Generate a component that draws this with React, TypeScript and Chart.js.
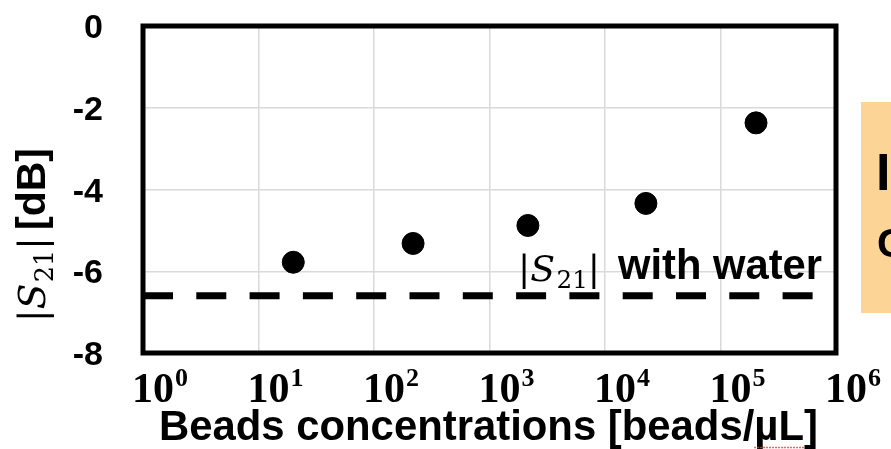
import React, { useEffect, useRef } from 'react';
import { Chart, registerables } from 'chart.js';

Chart.register(...registerables);

// ---- data ----
const concentrations = [20, 218, 2150, 22600, 203000];
const s21Values = [-5.78, -5.32, -4.88, -4.34, -2.37];
const waterLevel = -6.6;
const waterRange = [1, 1e6];
const xDecadeExponents = [0, 1, 2, 3, 4, 5, 6];
const yTickValues = [0, -2, -4, -6, -8];
const xTitle = 'Beads concentrations [beads/µL]';
const yTitleUnit = '[dB]';
const annotationText = 'with water';
const boxLetters = ['I', 'C'];

const W = 891;
const H = 449;
const SANS = '"Liberation Sans", Arial, sans-serif';
const SERIF = '"Liberation Serif", "Times New Roman", serif';
const MATH = '"DejaVu Serif", serif';

function fitSize(ctx: CanvasRenderingContext2D, text: string, weight: string, family: string, target: number) {
  ctx.font = `${weight} 100px ${family}`;
  return (100 * target) / ctx.measureText(text).width;
}

// draws |S_21| left-aligned at baseline y; returns width
function drawAbsS21(ctx: CanvasRenderingContext2D, x: number, y: number, size: number, draw: boolean) {
  const parts = [
    { t: '|', font: `${size}px ${MATH}`, dy: 0, pad: 0 },
    { t: 'S', font: `italic ${size}px ${MATH}`, dy: 0, pad: size * 0.04 },
    { t: '21', font: `${size * 0.68}px ${MATH}`, dy: size * 0.2, pad: 0 },
    { t: '|', font: `${size}px ${MATH}`, dy: 0, pad: 0 },
  ];
  let cx = x;
  ctx.textAlign = 'left';
  ctx.textBaseline = 'alphabetic';
  for (const p of parts) {
    ctx.font = p.font;
    if (draw) ctx.fillText(p.t, cx, y + p.dy);
    cx += ctx.measureText(p.t).width + p.pad;
  }
  return cx - x;
}

const decorPlugin = {
  id: 'decor',
  afterDraw(chart: any) {
    const ctx: CanvasRenderingContext2D = chart.ctx;
    const { left, top, right, bottom } = chart.chartArea;
    const xs = chart.scales.x;
    const ys = chart.scales.y;
    ctx.save();

    // plot border
    ctx.strokeStyle = '#000';
    ctx.lineWidth = 5;
    ctx.strokeRect(left, top, right - left, bottom - top);

    ctx.fillStyle = '#000';

    // y tick labels
    ctx.font = `bold 34px ${SANS}`;
    ctx.textAlign = 'right';
    ctx.textBaseline = 'alphabetic';
    for (const v of yTickValues) {
      const py = ys.getPixelForValue(v);
      ctx.fillText(String(v), 103, py + 12);
    }

    // x tick labels 10^k
    for (const k of xDecadeExponents) {
      const px = xs.getPixelForValue(Math.pow(10, k));
      ctx.textAlign = 'left';
      ctx.font = `bold 42px ${SERIF}`;
      const lx = px - 11;
      ctx.fillText('10', lx, 402);
      const w10 = ctx.measureText('10').width;
      ctx.font = `bold 26px ${SERIF}`;
      ctx.fillText(String(k), lx + w10 + 1, 386);
    }

    // x title
    const xtSize = fitSize(ctx, xTitle, 'bold', SANS, 659);
    ctx.font = `bold ${xtSize}px ${SANS}`;
    ctx.textAlign = 'left';
    const xtLeft = 159;
    ctx.fillText(xTitle, xtLeft, 440);
    // spell-check squiggle under µL
    const pre = ctx.measureText('Beads concentrations [beads/').width;
    const muw = ctx.measureText('µL').width;
    ctx.strokeStyle = '#e53935';
    ctx.lineWidth = 1.3;
    ctx.setLineDash([1.5, 1.5]);
    ctx.beginPath();
    ctx.moveTo(xtLeft + pre, 447.5);
    ctx.lineTo(xtLeft + pre + muw, 447.5);
    ctx.stroke();
    ctx.setLineDash([]);

    // y title (rotated)
    ctx.save();
    ctx.translate(45, 322);
    ctx.rotate(-Math.PI / 2);
    ctx.fillStyle = '#000';
    const natY = drawAbsS21(ctx, 0, 0, 38, false);
    const ys21 = 38 * 85 / natY;
    const wS = drawAbsS21(ctx, 0, 0, ys21, true);
    const unitSize = fitSize(ctx, yTitleUnit, 'bold', SANS, 82);
    ctx.font = `bold ${unitSize}px ${SANS}`;
    ctx.textAlign = 'left';
    ctx.fillText(yTitleUnit, wS + 7, 0);
    ctx.restore();

    // annotation |S21| with water
    const natA = drawAbsS21(ctx, 0, 0, 36, false);
    const as21 = 36 * 82 / natA;
    drawAbsS21(ctx, 518, 281, as21, true);
    const annSize = fitSize(ctx, annotationText, 'bold', SANS, 204);
    ctx.font = `bold ${annSize}px ${SANS}`;
    ctx.textAlign = 'left';
    ctx.fillText(annotationText, 618, 279);

    // orange box on the right edge
    ctx.fillStyle = '#FCD596';
    ctx.fillRect(861, 102, 40, 211);
    ctx.fillStyle = '#000';
    ctx.textAlign = 'left';
    ctx.font = `bold 52px ${SANS}`;
    ctx.fillText(boxLetters[0], 876, 190);
    ctx.font = `bold 41px ${SANS}`;
    ctx.fillText(boxLetters[1], 877, 257);

    ctx.restore();
  },
};

export default function App() {
  const ref = useRef<HTMLCanvasElement | null>(null);

  useEffect(() => {
    document.body.style.margin = '0';
    const canvas = ref.current!;
    const chart = new Chart(canvas, {
      type: 'scatter',
      data: {
        datasets: [
          {
            type: 'line',
            label: 'water',
            data: waterRange.map((x) => ({ x, y: waterLevel })),
            borderColor: '#000',
            borderWidth: 7,
            borderDash: [30, 23.3],
            borderCapStyle: 'butt',
            pointRadius: 0,
            fill: false,
          } as any,
          {
            label: '|S21|',
            data: concentrations.map((x, i) => ({ x, y: s21Values[i] })),
            backgroundColor: '#000',
            borderColor: '#000',
            pointRadius: 11,
            pointHoverRadius: 11,
            showLine: false,
          },
        ],
      },
      options: {
        responsive: false,
        animation: false,
        devicePixelRatio: 1,
        events: [],
        layout: { autoPadding: false, padding: { left: 143, top: 26, right: 55, bottom: 96 } },
        plugins: { legend: { display: false }, tooltip: { enabled: false }, title: { display: false } },
        scales: {
          x: {
            type: 'logarithmic',
            min: 1,
            max: 1e6,
            afterBuildTicks: (scale: any) => {
              scale.ticks = xDecadeExponents.map((k) => ({ value: Math.pow(10, k) }));
            },
            ticks: { display: false },
            grid: { color: '#d9d9d9', lineWidth: 1.5, drawTicks: false },
            border: { display: false },
          },
          y: {
            type: 'linear',
            min: -8,
            max: 0,
            afterBuildTicks: (scale: any) => {
              scale.ticks = yTickValues.map((v) => ({ value: v }));
            },
            ticks: { display: false },
            grid: { color: '#d9d9d9', lineWidth: 1.5, drawTicks: false },
            border: { display: false },
          },
        },
      },
      plugins: [decorPlugin],
    });
    return () => chart.destroy();
  }, []);

  return (
    <div style={{ position: 'absolute', left: 0, top: 0, width: W, height: H, background: '#fff' }}>
      <canvas ref={ref} width={W} height={H} style={{ display: 'block', width: W, height: H }} />
    </div>
  );
}
